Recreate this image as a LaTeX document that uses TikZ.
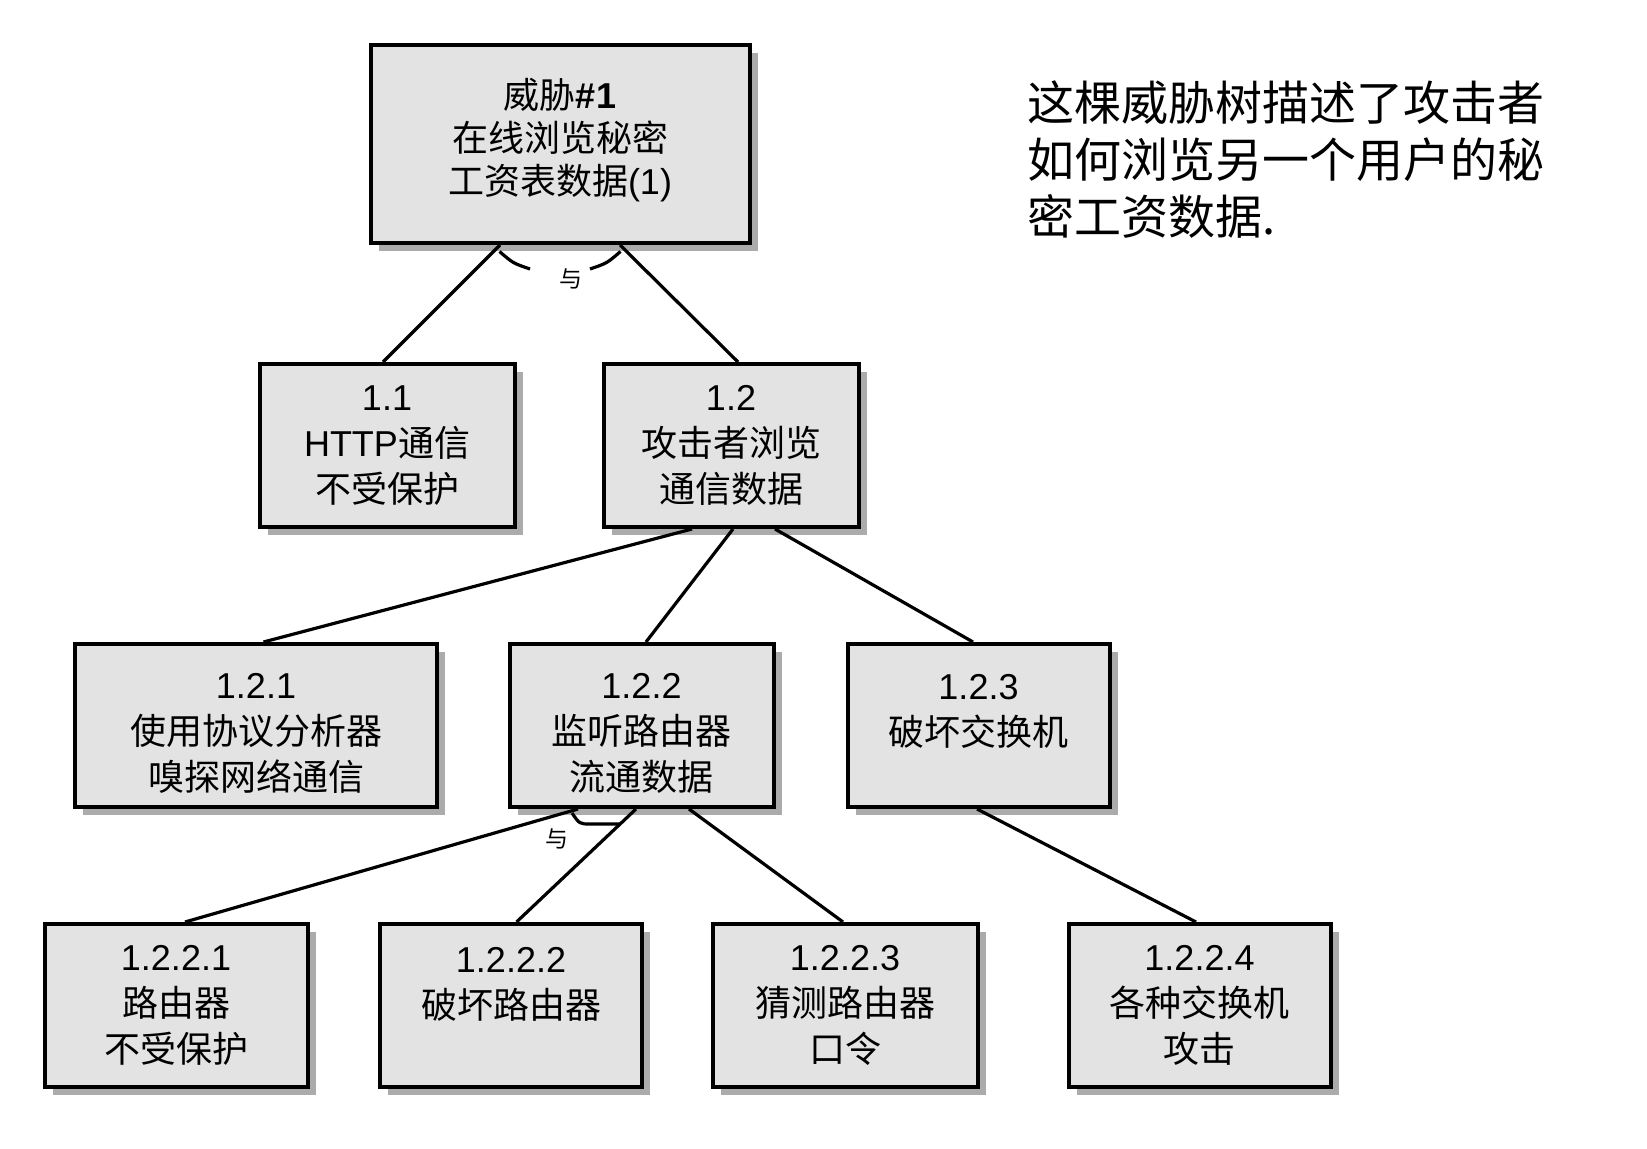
\documentclass[tikz,border=0pt]{standalone}
\usepackage{fontspec}
\setmainfont{Liberation Sans}
\newfontfamily\cjk{Noto Sans CJK SC}
\usetikzlibrary{shadows,calc}
\newcommand\zh[1]{{\cjk #1}}
\definecolor{boxgray}{HTML}{E3E3E3}
\definecolor{shadowgray}{HTML}{ABABAB}
\begin{document}
\begin{tikzpicture}[x=0.5pt,y=-0.5pt,
  box/.style={draw=black, line width=2pt, fill=boxgray,
    drop shadow={shadow xshift=4pt, shadow yshift=-4pt, fill=shadowgray, opacity=1},
    align=center, inner sep=0pt, minimum height=81.5pt,
    font=\fontsize{18}{23}\selectfont},
  conn/.style={line width=1.6pt},
  andarc/.style={line width=1.6pt},
  andlbl/.style={font=\fontsize{11.5}{12}\selectfont\cjk, inner sep=0pt}]
\path[fill=white] (0,0) rectangle (1647,1149);
\useasboundingbox (0,0) rectangle (1647,1149);

% boxes
\node[box, minimum width=189.5pt, minimum height=99pt,
  font=\fontsize{18}{21.5}\selectfont] (top) at (560,144)
  {\zh{威胁}\textbf{\#1}\\\zh{在线浏览秘密}\\\zh{工资表数据}(1)\rule[-8pt]{0pt}{0pt}};
\node[box, minimum width=127.5pt] (n11) at (387,445.5)
  {1.1\\HTTP\zh{通信}\\\zh{不受保护}};
\node[box, minimum width=127.5pt] (n12) at (731,445.5)
  {1.2\\\zh{攻击者浏览}\\\zh{通信数据}};
\node[box, minimum width=181pt] (n121) at (256,725.5)
  {\rule{0pt}{20pt}1.2.1\\\zh{使用协议分析器}\\\zh{嗅探网络通信}};
\node[box, minimum width=132pt] (n122) at (641.5,725.5)
  {\rule{0pt}{20pt}1.2.2\\\zh{监听路由器}\\\zh{流通数据}};
\node[box, minimum width=131pt] (n123) at (978.5,725.5)
  {\rule{0pt}{20pt}1.2.3\\\zh{破坏交换机}\\\mbox{}};
\node[box, minimum width=131.5pt] (n1221) at (176,1005.5)
  {1.2.2.1\\\zh{路由器}\\\zh{不受保护}};
\node[box, minimum width=131pt] (n1222) at (511,1005.5)
  {1.2.2.2\\\zh{破坏路由器}\\\mbox{}};
\node[box, minimum width=132.5pt] (n1223) at (845,1005.5)
  {1.2.2.3\\\zh{猜测路由器}\\\zh{口令}};
\node[box, minimum width=131pt] (n1224) at (1199.5,1005.5)
  {1.2.2.4\\\zh{各种交换机}\\\zh{攻击}};

% connectors
\draw[conn] ($(top.south)+(-60,0)$) -- ($(n11.north)+(-4,0)$);
\draw[conn] ($(top.south)+(60,0)$) -- ($(n12.north)+(7,0)$);
\draw[conn] ($(n12.south)+(-39,0)$) -- ($(n121.north)+(7.5,0)$);
\draw[conn] ($(n12.south)+(2,0)$) -- ($(n122.north)+(4.5,0)$);
\draw[conn] ($(n12.south)+(44,0)$) -- ($(n123.north)+(-5.5,0)$);
\draw[conn] ($(n122.south)+(-63.5,0)$) -- ($(n1221.north)+(9,0)$);
\draw[conn] ($(n122.south)+(-5.5,0)$) -- ($(n1222.north)+(5.5,0)$);
\draw[conn] ($(n122.south)+(47.5,0)$) -- ($(n1223.north)+(-2,0)$);
\draw[conn] ($(n123.south)+(-1.5,0)$) -- ($(n1224.north)+(-3.5,0)$);

% AND marks
\draw[andarc] ($(top.south)+(-60.5,6.5)$) .. controls ($(top.south)+(-47,18.2)$) .. ($(top.south)+(-30,24)$);
\draw[andarc] ($(top.south)+(30,24)$) .. controls ($(top.south)+(47,18.2)$) .. ($(top.south)+(60.5,6.5)$);
\node[andlbl] (and1) at (571,279) {与};
\draw[andarc] ($(n122.south)+(-69.5,4)$) .. controls ($(n122.south)+(-62,15)$) .. ($(n122.south)+(-51,15)$) -- ($(n122.south)+(-21,15)$);
\node[andlbl] (and2) at (557,839) {与};

% description
\node[anchor=west, align=left, inner sep=0pt,
  font=\fontsize{23.5}{28.5}\selectfont\cjk] (desc) at (1027,160)
  {这棵威胁树描述了攻击者\\如何浏览另一个用户的秘\\密工资数据.};
\end{tikzpicture}
\end{document}
